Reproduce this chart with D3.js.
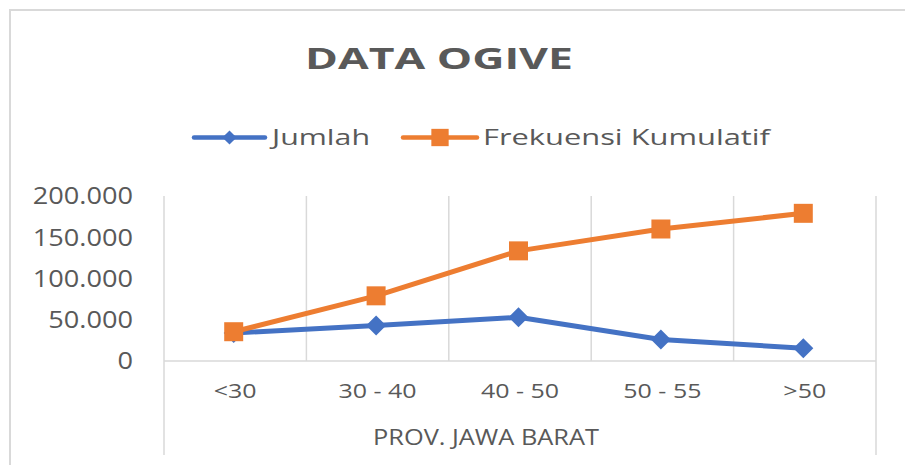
<!DOCTYPE html>
<meta charset="UTF-8">
<style>
  body { margin: 0; background: #fff; }
  text { font-family: "Open Sans", sans-serif; fill: #595959; }
</style>
<body>
<div class="chart"></div>
<script src="https://d3js.org/d3.v7.min.js"></script>
<script>
// data
var categories = ["<30", "30 - 40", "40 - 50", "50 - 55", ">50"];
var jumlah = [34000, 43000, 53000, 26000, 15500];
var kumulatif = [35500, 79000, 133500, 160000, 179000];
var yTicks = [0, 50000, 100000, 150000, 200000];
var seriesNames = ["Jumlah", "Frekuensi Kumulatif"];

var width = 905, height = 465;
var blue = "#4472C4", orange = "#ED7D31", grid = "#d9d9d9";

var svg = d3.select(".chart").append("svg")
    .attr("width", width)
    .attr("height", height);

// chart border (only top + left visible in the crop)
svg.append("rect")
    .attr("x", 10).attr("y", 10)
    .attr("width", 1000).attr("height", 1000)
    .attr("fill", "none").attr("stroke", grid).attr("stroke-width", 2);

var x = d3.scaleBand().domain(categories).range([164, 876]);
var y = d3.scaleLinear().domain([0, 200000]).range([361, 196]);

var fmt = d3.formatLocale({ decimal: ",", thousands: ".", grouping: [3] }).format(",");

// stretch text horizontally (picture is wider than the font)
function stretch(sel, k) {
  sel.each(function () {
    var w = this.getComputedTextLength();
    d3.select(this).attr("textLength", w * k).attr("lengthAdjust", "spacingAndGlyphs");
  });
}

// title
svg.append("text")
    .attr("x", 305).attr("y", 69)
    .attr("font-size", 29).attr("font-weight", "bold")
    .attr("textLength", 268).attr("lengthAdjust", "spacingAndGlyphs")
    .text("DATA OGIVE");

// grid: vertical band boundaries
var bounds = categories.map(function (c) { return x(c); }).concat([x.range()[1]]);
svg.selectAll(".vgrid").data(bounds).enter().append("line")
    .attr("class", "vgrid")
    .attr("x1", function (d) { return d; }).attr("x2", function (d) { return d; })
    .attr("y1", y(200000))
    .attr("y2", function (d, i) { return (i === 0 || i === bounds.length - 1) ? 455 : y(0); })
    .attr("stroke", grid).attr("stroke-width", 1.5);

svg.append("line")
    .attr("x1", x.range()[0]).attr("x2", x.range()[1])
    .attr("y1", y(0)).attr("y2", y(0))
    .attr("stroke", grid).attr("stroke-width", 1.5);

// y labels
svg.selectAll(".ylab").data(yTicks).enter().append("text")
    .attr("class", "ylab")
    .attr("x", 133).attr("y", function (d) { return y(d); })
    .attr("dy", "0.36em")
    .attr("text-anchor", "end")
    .attr("font-size", 23)
    .text(function (d) { return fmt(d); })
    .call(stretch, 1.18);

// x labels
svg.selectAll(".xlab").data(categories).enter().append("text")
    .attr("class", "xlab")
    .attr("x", function (d) { return x(d) + x.bandwidth() / 2; })
    .attr("y", 398)
    .attr("text-anchor", "middle")
    .attr("font-size", 19.5)
    .text(function (d) { return d; })
    .call(stretch, 1.28);

// axis title
svg.append("text")
    .attr("x", 373).attr("y", 445)
    .attr("font-size", 21)
    .attr("textLength", 226).attr("lengthAdjust", "spacingAndGlyphs")
    .text("PROV. JAWA BARAT");

var cx = function (d, i) { return x(categories[i]) + x.bandwidth() / 2 - 1.5; };
var line = d3.line().x(cx).y(function (d) { return y(d); });

var square = d3.symbol().type(d3.symbolSquare);

function drawSeries(values, color, diamond) {
  svg.append("path")
      .datum(values)
      .attr("d", line)
      .attr("fill", "none")
      .attr("stroke", color)
      .attr("stroke-width", 5)
      .attr("stroke-linejoin", "round");
  svg.selectAll(null).data(values).enter().append("path")
      .attr("d", square.size(diamond ? 200 : 361)())
      .attr("transform", function (d, i) {
        return "translate(" + cx(d, i) + "," + y(d) + ")" + (diamond ? " rotate(45)" : "");
      })
      .attr("fill", color);
}

drawSeries(jumlah, blue, true);
drawSeries(kumulatif, orange, false);

// legend
var legend = [
  { name: seriesNames[0], color: blue, x0: 194, x1: 265, tx: 272, tw: 98, diamond: true },
  { name: seriesNames[1], color: orange, x0: 403, x1: 477, tx: 483, tw: 287, diamond: false }
];
var lg = svg.selectAll(".legend").data(legend).enter().append("g").attr("class", "legend");
lg.append("line")
    .attr("x1", function (d) { return d.x0; }).attr("x2", function (d) { return d.x1; })
    .attr("y1", 137.5).attr("y2", 137.5)
    .attr("stroke", function (d) { return d.color; })
    .attr("stroke-width", 4.5)
    .attr("stroke-linecap", "round");
lg.append("path")
    .attr("d", function (d) { return square.size(d.diamond ? 100 : 300)(); })
    .attr("transform", function (d) {
      return "translate(" + (d.x0 + d.x1) / 2 + ",137.5)" + (d.diamond ? " rotate(45)" : "");
    })
    .attr("fill", function (d) { return d.color; });
lg.append("text")
    .attr("x", function (d) { return d.tx; })
    .attr("y", 145)
    .attr("font-size", 22)
    .attr("textLength", function (d) { return d.tw; })
    .attr("lengthAdjust", "spacingAndGlyphs")
    .text(function (d) { return d.name; });
</script>
</body>
